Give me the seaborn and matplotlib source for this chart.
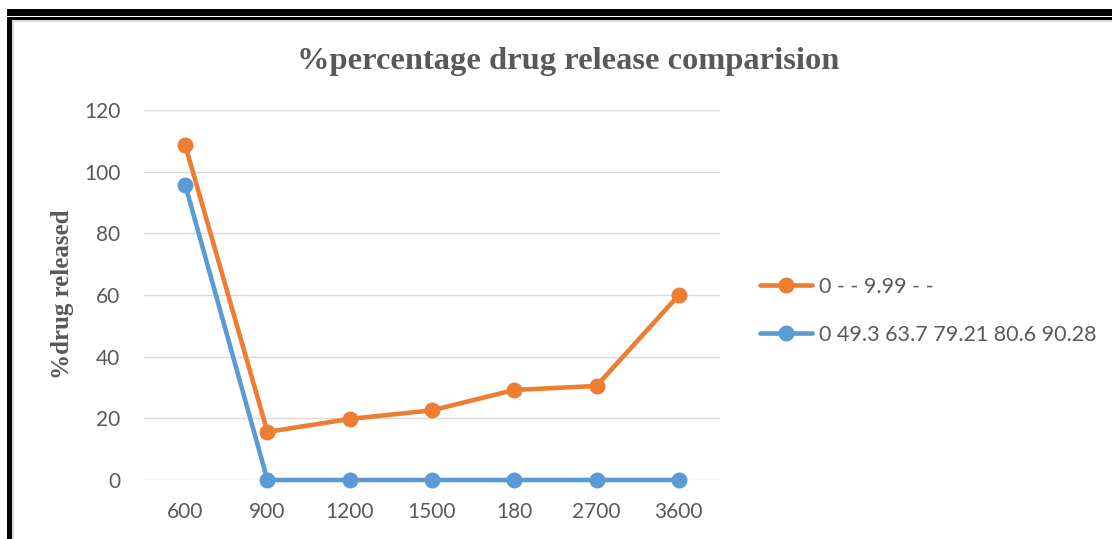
import pandas as pd
import seaborn as sns
import matplotlib.pyplot as plt
from matplotlib.patches import Rectangle

times = ['600', '900', '1200', '1500', '180', '2700', '3600']
series_a = [108.7, 15.6, 19.8, 22.6, 29.2, 30.5, 60.0]
series_b = [95.8, 0, 0, 0, 0, 0, 0]
label_a = '0 - - 9.99 - -'
label_b = '0 49.3 63.7 79.21 80.6 90.28'

df = pd.concat([
    pd.DataFrame({'time': times, 'released': series_a, 'series': label_a}),
    pd.DataFrame({'time': times, 'released': series_b, 'series': label_b}),
])

sns.set_style('white')
gray = '#595959'

W, H = 1112, 539
fig = plt.figure(figsize=(W / 100, H / 100), dpi=100)
ax = fig.add_axes([144 / W, 1 - 480 / H, 576 / W, 370 / H])

sns.lineplot(data=df, x='time', y='released', hue='series',
             palette=['#ED7D31', '#5B9BD5'], marker='o', markersize=11.5,
             markeredgewidth=0, linewidth=3.3, sort=False, ax=ax)
for ln in ax.lines:
    ln.set_clip_on(False)

ax.set_xlim(-0.5, len(times) - 0.5)
ax.set_ylim(0, 120)
ax.set_yticks(range(0, 121, 20))
ax.yaxis.grid(True, color='#d9d9d9', linewidth=1)
ax.set_axisbelow(True)
for s in ax.spines.values():
    s.set_visible(False)
ax.tick_params(length=0, labelsize=15, labelcolor=gray)
ax.tick_params(axis='y', pad=17)
ax.tick_params(axis='x', pad=16)
for t in ax.get_xticklabels() + ax.get_yticklabels():
    t.set_family('Lato')
ax.set_xlabel('')
ax.set_ylabel('')

leg = ax.legend(loc='center left', bbox_to_anchor=(760 / W, 1 - 311 / H),
                bbox_transform=fig.transFigure, frameon=False,
                borderpad=0, borderaxespad=0,
                handlelength=2.4, handletextpad=0.35, labelspacing=1.3,
                prop={'family': 'Lato', 'size': 15.5})
for t in leg.get_texts():
    t.set_color(gray)

fig.text(568 / W, 1 - 61 / H, '%percentage drug release comparision',
         ha='center', va='center', fontsize=23.4, fontweight='bold',
         family='Liberation Serif', color=gray)
fig.text(62 / W, 1 - 294 / H, '%drug released', rotation=90,
         ha='center', va='center', fontsize=18, fontweight='bold',
         family='Liberation Serif', color=gray)

# page border
def box(x0, y0, x1, y1, c):
    fig.add_artist(Rectangle((x0 / W, 1 - y1 / H), (x1 - x0) / W, (y1 - y0) / H,
                             transform=fig.transFigure, color=c, lw=0))

box(7, 9, W, 16, 'black')
box(7, 17, W, 19.5, 'black')
box(12, 19.5, W, 21.5, '#d9d9d9')
box(7, 17, 12, H, 'black')
box(12, 19.5, 14, H, '#d9d9d9')

fig.savefig('out.png', dpi=100)
